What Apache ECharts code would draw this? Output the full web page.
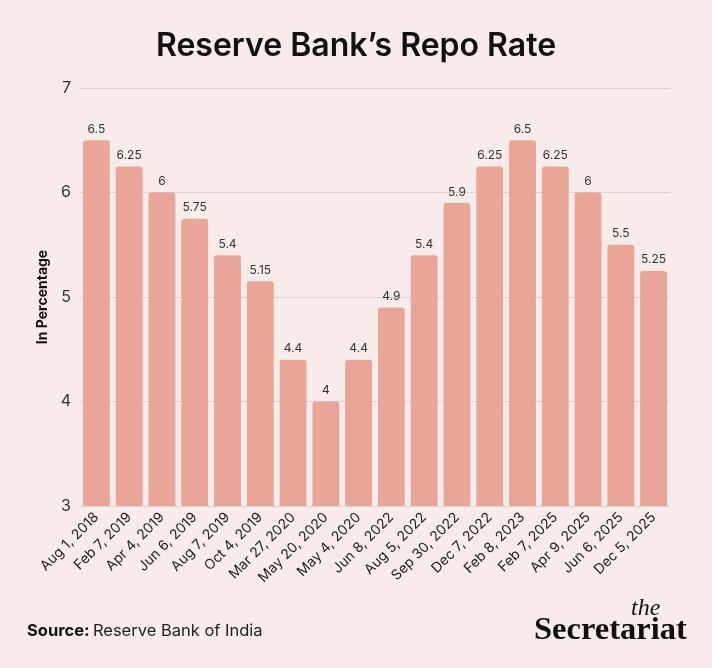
<!DOCTYPE html>
<html>
<head>
<meta charset="utf-8">
<script src="https://cdn.jsdelivr.net/npm/echarts@6/dist/echarts.min.js"></script>
<style>
html,body{margin:0;padding:0;background:#F8ECEB;}
#chart{width:712px;height:668px;}
</style>
</head>
<body>
<div id="chart"></div>
<script>
const categories = ["Aug 1, 2018","Feb 7, 2019","Apr 4, 2019","Jun 6, 2019","Aug 7, 2019","Oct 4, 2019","Mar 27, 2020","May 20, 2020","May 4, 2020","Jun 8, 2022","Aug 5, 2022","Sep 30, 2022","Dec 7, 2022","Feb 8, 2023","Feb 7, 2025","Apr 9, 2025","Jun 6, 2025","Dec 5, 2025"];
const repoRate = [6.5,6.25,6,5.75,5.4,5.15,4.4,4,4.4,4.9,5.4,5.9,6.25,6.5,6.25,6,5.5,5.25];
const yTicks = [3,4,5,6,7];

const chart = echarts.init(document.getElementById('chart'));
chart.setOption({
  backgroundColor: '#F8ECEB',
  animation: false,
  textStyle: {fontFamily: 'Inter'},
  title: {
    text: 'Reserve Bank’s Repo Rate',
    left: 'center',
    top: 25,
    textStyle: {fontFamily: 'Inter', fontWeight: 600, fontSize: 32, color: '#111'}
  },
  grid: {left: 80, right: 42, top: 88, bottom: 162},
  xAxis: {
    type: 'category',
    data: categories,
    axisLine: {show: false},
    axisTick: {show: false},
    axisLabel: {rotate: 45, fontSize: 14, color: '#222', margin: 9, interval: 0}
  },
  yAxis: {
    type: 'value',
    min: yTicks[0],
    max: yTicks[yTicks.length - 1],
    interval: 1,
    name: 'In Percentage',
    nameLocation: 'middle',
    nameGap: 28,
    nameTextStyle: {fontFamily: 'Inter', fontWeight: 'bold', fontSize: 14, color: '#111'},
    axisLine: {show: false},
    axisTick: {show: false},
    axisLabel: {fontSize: 16, color: '#333', margin: 9},
    splitLine: {lineStyle: {color: '#DDD2D1', width: 1}}
  },
  series: [{
    type: 'bar',
    data: repoRate,
    barCategoryGap: '18%',
    itemStyle: {color: '#E9A598', borderRadius: [3, 3, 0, 0]},
    label: {show: true, position: 'top', fontSize: 12, color: '#333', distance: 5}
  }],
  graphic: [
    {
      type: 'text', left: 27, top: 623,
      style: {
        text: '{b|Source:} {n|Reserve Bank of India}',
        rich: {
          b: {fontFamily: 'Inter', fontWeight: 'bold', fontSize: 16.5, fill: '#111'},
          n: {fontFamily: 'Inter', fontSize: 16.5, fill: '#222'}
        }
      }
    },
    {
      type: 'text', left: 631, top: 597,
      style: {text: 'the', fontFamily: 'Liberation Serif', fontStyle: 'italic', fontSize: 24, fill: '#111'}
    },
    {
      type: 'text', left: 534, top: 614,
      style: {text: 'Secretariat', fontFamily: 'Liberation Serif', fontWeight: 'bold', fontSize: 32.5, fill: '#111'}
    }
  ]
});
</script>
</body>
</html>
